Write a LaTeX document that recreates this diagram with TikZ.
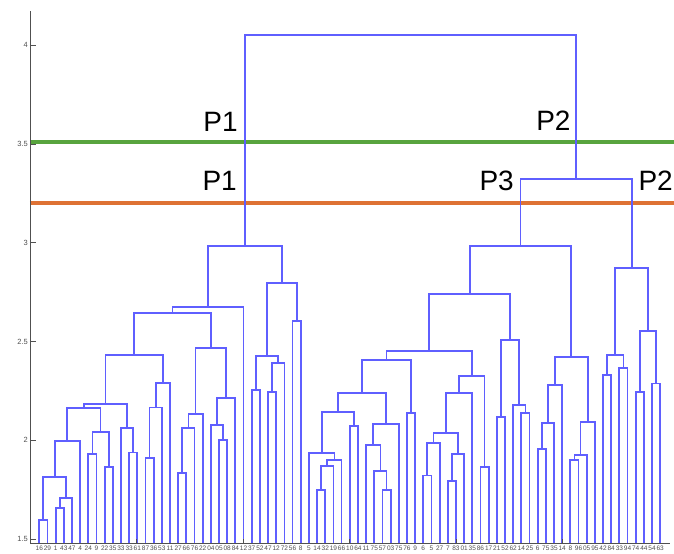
\documentclass[tikz,border=0pt]{standalone}
\usepackage{fontspec}
\setmainfont{Liberation Sans}
\usepackage{tikz}
\definecolor{bleu}{RGB}{95,95,255}
\definecolor{vert}{RGB}{88,164,62}
\definecolor{orangecoupe}{RGB}{222,114,52}
\definecolor{gris}{RGB}{80,80,80}
\tikzstyle{lien} = [color=bleu, line width=1.8pt, line join=miter]
\tikzstyle{coupe} = [line width=4pt]
\tikzstyle{axe} = [color=gris, line width=0.8pt]
\tikzstyle{partie} = [anchor=base east, inner sep=0pt, font=\fontsize{28}{30}\selectfont]
\tikzstyle{feuille} = [inner sep=0pt, font=\fontsize{6.5}{7}\selectfont]
\tikzstyle{graduation} = [anchor=east, inner sep=0pt, font=\fontsize{7.5}{8}\selectfont]
% bracket between two clusters at height #4, centre stored in #3
\newcommand{\fusion}[4]{%
  \path (#1 |- 0,#4) -- (#2 |- 0,#4) coordinate[midway] (#3);%
  \draw[lien] (#1) -- (#1 |- 0,#4) -- (#2 |- 0,#4) -- (#2);%
}

\begin{document}
\begin{tikzpicture}[x=8.17pt, y=197.5pt]

        \useasboundingbox (-3.81,1.424) rectangle (78.685,4.229);

        % cut lines
        \draw[coupe, color=vert] (-0.14,3.512) -- (78.685,3.512);
        \draw[coupe, color=orangecoupe] (-0.14,3.2) -- (78.685,3.2);

        % leaves
        \foreach \i in {1,...,77} {
            \coordinate (f\i) at (\i,1.48);
        }

        % P1
        \fusion{f1}{f2}{m1}{1.598}
        \fusion{f3}{f4}{m2}{1.655}
        \fusion{m2}{f5}{m3}{1.708}
        \fusion{m1}{m3}{m4}{1.815}
        \fusion{m4}{f6}{m5}{1.995}
        \fusion{f7}{f8}{m6}{1.932}
        \fusion{f9}{f10}{m7}{1.866}
        \fusion{m6}{m7}{m8}{2.043}
        \fusion{m5}{m8}{m9}{2.162}
        \fusion{f12}{f13}{m10}{1.938}
        \fusion{f11}{m10}{m11}{2.060}
        \fusion{m9}{m11}{m12}{2.184}
        \fusion{f14}{f15}{m13}{1.912}
        \fusion{m13}{f16}{m14}{2.166}
        \fusion{m14}{f17}{m15}{2.291}
        \fusion{m12}{m15}{m16}{2.432}
        \fusion{f18}{f19}{m17}{1.836}
        \fusion{m17}{f20}{m18}{2.060}
        \fusion{m18}{f21}{m19}{2.133}
        \fusion{f23}{f24}{m20}{2.001}
        \fusion{f22}{m20}{m21}{2.079}
        \fusion{m21}{f25}{m22}{2.214}
        \fusion{m19}{m22}{m23}{2.466}
        \fusion{m16}{m23}{m24}{2.644}
        \fusion{m24}{f26}{m25}{2.675}
        \fusion{f27}{f28}{m26}{2.256}
        \fusion{f29}{f30}{m27}{2.243}
        \fusion{m27}{f31}{m28}{2.393}
        \fusion{m26}{m28}{m29}{2.427}
        \fusion{f32}{f33}{m30}{2.602}
        \fusion{m29}{m30}{m31}{2.798}
        \fusion{m25}{m31}{m32}{2.984}

        % P3
        \fusion{f35}{f36}{m33}{1.748}
        \fusion{m33}{f37}{m34}{1.871}
        \fusion{m34}{f38}{m35}{1.900}
        \fusion{f34}{m35}{m36}{1.937}
        \fusion{f39}{f40}{m37}{2.072}
        \fusion{m36}{m37}{m38}{2.141}
        \fusion{f43}{f44}{m39}{1.748}
        \fusion{f42}{m39}{m40}{1.843}
        \fusion{f41}{m40}{m41}{1.974}
        \fusion{m41}{f45}{m42}{2.084}
        \fusion{m38}{m42}{m43}{2.241}
        \fusion{f46}{f47}{m44}{2.136}
        \fusion{m43}{m44}{m45}{2.406}
        \fusion{f48}{f49}{m46}{1.821}
        \fusion{m46}{f50}{m47}{1.985}
        \fusion{f51}{f52}{m48}{1.792}
        \fusion{m48}{f53}{m49}{1.932}
        \fusion{m47}{m49}{m50}{2.037}
        \fusion{m50}{f54}{m51}{2.239}
        \fusion{f55}{f56}{m52}{1.863}
        \fusion{m51}{m52}{m53}{2.325}
        \fusion{m45}{m53}{m54}{2.452}
        \fusion{f57}{f58}{m55}{2.116}
        \fusion{f60}{f61}{m56}{2.137}
        \fusion{f59}{m56}{m57}{2.177}
        \fusion{m55}{m57}{m58}{2.506}
        \fusion{m54}{m58}{m59}{2.742}
        \fusion{f62}{f63}{m60}{1.957}
        \fusion{m60}{f64}{m61}{2.086}
        \fusion{m61}{f65}{m62}{2.280}
        \fusion{f66}{f67}{m63}{1.900}
        \fusion{m63}{f68}{m64}{1.924}
        \fusion{m64}{f69}{m65}{2.092}
        \fusion{m62}{m65}{m66}{2.423}
        \fusion{m59}{m66}{m67}{2.984}

        % P2
        \fusion{f70}{f71}{m68}{2.329}
        \fusion{f72}{f73}{m69}{2.366}
        \fusion{m68}{m69}{m70}{2.430}
        \fusion{f74}{f75}{m71}{2.246}
        \fusion{f76}{f77}{m72}{2.287}
        \fusion{m71}{m72}{m73}{2.555}
        \fusion{m70}{m73}{m74}{2.871}
        \fusion{m67}{m74}{m75}{3.322}
        \fusion{m32}{m75}{m76}{4.050}

        % axes
        \draw[axe] (-0.14,4.173) -- (-0.14,1.48) -- (78.2,1.48);
        \foreach \v/\t in {1.5/1.5, 2/2, 2.5/2.5, 3/3, 3.5/3.5, 4/4} {
            \draw[axe] (-0.14,\v) -- (0.6,\v);
            \node (g\t) [graduation, text=gris] at (-0.38,\v) {\t};
        }
        \foreach \k in {1,...,5} {
            \draw[axe] (-0.14+13.04*\k,1.48) -- (-0.14+13.04*\k,1.5);
        }
        \foreach \i/\t in {1/16, 2/29, 3/1, 4/43, 5/47, 6/4, 7/24, 8/9, 9/22, 10/35,
            11/33, 12/33, 13/61, 14/87, 15/36, 16/53, 17/11, 18/27, 19/66, 20/76,
            21/22, 22/04, 23/05, 24/08, 25/84, 26/12, 27/37, 28/52, 29/47, 30/12,
            31/72, 32/56, 33/8, 34/5, 35/14, 36/32, 37/19, 38/66, 39/10, 40/64,
            41/11, 42/75, 43/57, 44/03, 45/75, 46/76, 47/9, 48/6, 49/5, 50/27,
            51/7, 52/83, 53/01, 54/35, 55/86, 56/17, 57/21, 58/52, 59/62, 60/14,
            61/25, 62/6, 63/75, 64/35, 65/14, 66/8, 67/96, 68/05, 69/95, 70/42,
            71/84, 72/33, 73/94, 74/74, 75/44, 76/54, 77/63} {
            \node (e\i) [feuille, text=gris] at (\i,1.452) {\t};
        }

        % labels of the parts
        \node (p1a) [partie] at (25.3,3.561) {P1};
        \node (p2a) [partie] at (66.05,3.567) {P2};
        \node (p1b) [partie] at (25.2,3.264) {P1};
        \node (p3b) [partie] at (59.1,3.262) {P3};
        \node (p2b) [partie] at (78.56,3.264) {P2};

    \end{tikzpicture}
\end{document}
